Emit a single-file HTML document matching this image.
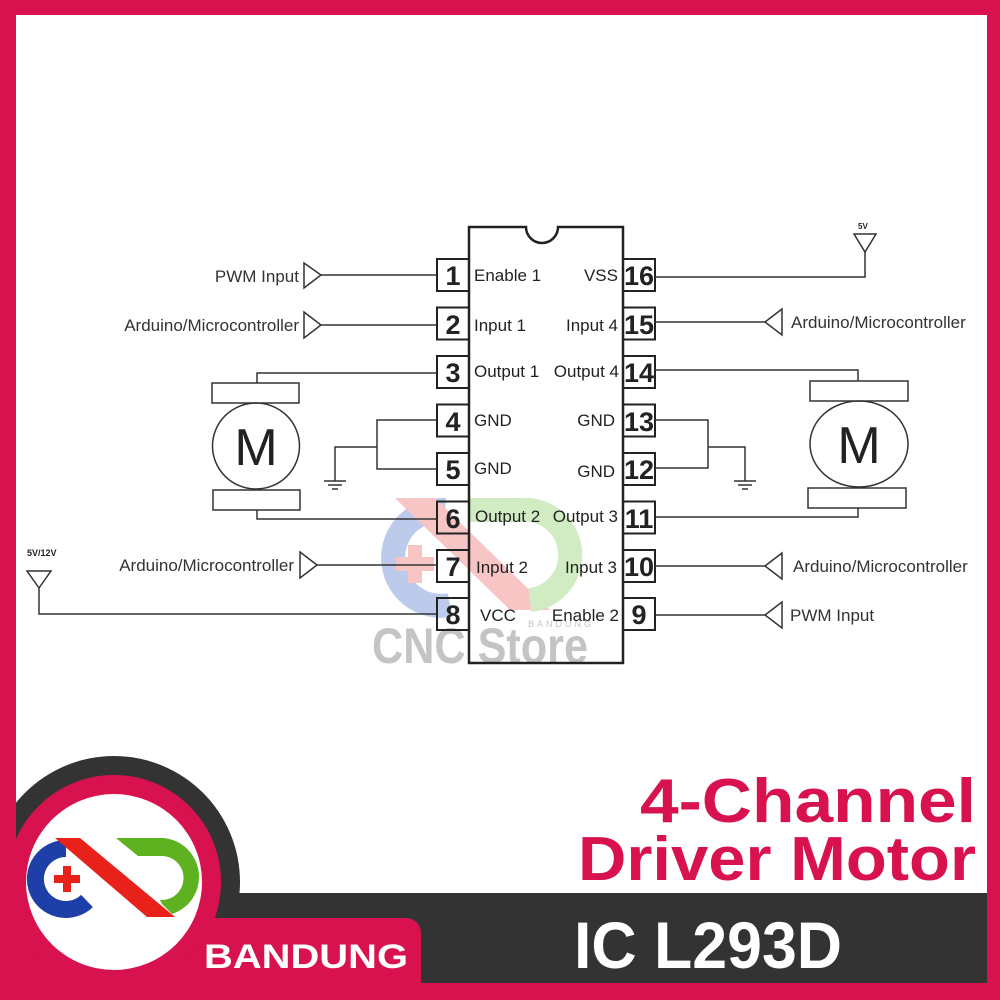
<!DOCTYPE html>
<html><head><meta charset="utf-8"><style>
html,body{margin:0;padding:0;background:#fff}
svg{display:block}
</style></head><body>
<svg width="1000" height="1000" viewBox="0 0 1000 1000" xmlns="http://www.w3.org/2000/svg" font-family="Liberation Sans, Arial, sans-serif">
<rect width="1000" height="1000" fill="#fff"/>

<!-- watermark -->
<g opacity="0.4">
  <path d="M445 510 A48 48 0 1 0 450 605" fill="none" stroke="#5a7fd0" stroke-width="24"/>
  <path d="M395 498 L435 498 L550 610 L510 610 Z" fill="#f07070"/>
  <path d="M470 510 L520 510 A45 45 0 0 1 530 600" fill="none" stroke="#8fd06a" stroke-width="24"/>
  <path d="M408 545 h14 v12 h12 v14 h-12 v12 h-14 v-12 h-12 v-14 h12 z" fill="#f07070"/>
</g>
<text x="372" y="663" font-size="50" font-weight="bold" fill="#c4c4c4" textLength="216" lengthAdjust="spacingAndGlyphs">CNC Store</text>
<text x="528" y="627" font-size="9" fill="#c4c4c4" letter-spacing="3">BANDUNG</text>

<g stroke="#222" stroke-width="2" fill="none">
  <path d="M469 227 H526 A16 16 0 0 0 558 227 H623 V663 H469 Z" stroke-width="2.5"/>
  <rect x="437" y="259" width="32" height="32"/>
  <rect x="437" y="307.5" width="32" height="32"/>
  <rect x="437" y="356" width="32" height="32"/>
  <rect x="437" y="404.5" width="32" height="32"/>
  <rect x="437" y="453" width="32" height="32"/>
  <rect x="437" y="501.5" width="32" height="32"/>
  <rect x="437" y="550" width="32" height="32"/>
  <rect x="437" y="598" width="32" height="32"/>
  <rect x="623" y="259" width="32" height="32"/>
  <rect x="623" y="307.5" width="32" height="32"/>
  <rect x="623" y="356" width="32" height="32"/>
  <rect x="623" y="404.5" width="32" height="32"/>
  <rect x="623" y="453" width="32" height="32"/>
  <rect x="623" y="501.5" width="32" height="32"/>
  <rect x="623" y="550" width="32" height="32"/>
  <rect x="623" y="598" width="32" height="32"/>
</g>

<g stroke="#333" stroke-width="1.5" fill="none">
  <path d="M321 275 H437"/><path d="M304 263 L321 275 L304 288 Z"/>
  <path d="M321 325 H437"/><path d="M304 312 L321 325 L304 338 Z"/>
  <path d="M257 383 V373 H437"/>
  <rect x="212" y="383" width="87" height="20"/>
  <ellipse cx="256" cy="446" rx="43.5" ry="43"/>
  <rect x="213" y="490" width="87" height="20"/>
  <path d="M257 510 V519 H437"/>
  <path d="M437 420 H377 V469 H437"/>
  <path d="M377 447 H335 V481"/>
  <path d="M324 481 H346 M328 485 H342 M332 489 H338"/>
  <path d="M317 565 H437"/><path d="M300 552 L317 565 L300 578 Z"/>
  <path d="M39 588 V614 H437"/><path d="M27 571 L51 571 L39 588 Z"/>
  <path d="M655 277 H865 V252"/><path d="M854 234 L876 234 L865 252 Z"/>
  <path d="M655 322 H765"/><path d="M782 309 L765 322 L782 335 Z"/>
  <path d="M655 370 H858 V381"/>
  <rect x="810" y="381" width="98" height="20"/>
  <ellipse cx="859" cy="444" rx="49" ry="43"/>
  <rect x="808" y="488" width="98" height="20"/>
  <path d="M858 508 V517 H655"/>
  <path d="M655 420 H708 V468 H655"/>
  <path d="M708 447 H745 V481"/>
  <path d="M734 481 H756 M738 485 H752 M742 489 H748"/>
  <path d="M655 566 H765"/><path d="M782 553 L765 566 L782 579 Z"/>
  <path d="M655 615 H765"/><path d="M782 602 L765 615 L782 628 Z"/>
</g>
<text x="256" y="465" font-size="52" text-anchor="middle" fill="#222">M</text>
<text x="859" y="463" font-size="52" text-anchor="middle" fill="#222">M</text>

<g font-size="27" font-weight="bold" fill="#222" text-anchor="middle">
  <text x="453" y="285">1</text><text x="453" y="334">2</text><text x="453" y="382">3</text><text x="453" y="431">4</text>
  <text x="453" y="479">5</text><text x="453" y="528">6</text><text x="453" y="576">7</text><text x="453" y="624">8</text>
  <text x="639" y="285">16</text><text x="639" y="334">15</text><text x="639" y="382">14</text><text x="639" y="431">13</text>
  <text x="639" y="479">12</text><text x="639" y="528">11</text><text x="639" y="576">10</text><text x="639" y="624">9</text>
</g>
<g font-size="17" fill="#222">
  <text x="474" y="281">Enable 1</text><text x="474" y="331">Input 1</text><text x="474" y="377">Output 1</text>
  <text x="474" y="426">GND</text><text x="474" y="474">GND</text><text x="475" y="522">Output 2</text>
  <text x="476" y="573">Input 2</text><text x="480" y="621">VCC</text>
</g>
<g font-size="17" fill="#222" text-anchor="end">
  <text x="618" y="281">VSS</text><text x="618" y="331">Input 4</text><text x="619" y="377">Output 4</text>
  <text x="615" y="426">GND</text><text x="615" y="477">GND</text><text x="618" y="522">Output 3</text>
  <text x="617" y="573">Input 3</text><text x="619" y="621">Enable 2</text>
</g>
<g font-size="17" fill="#333">
  <text x="299" y="282" text-anchor="end">PWM Input</text>
  <text x="299" y="331" text-anchor="end">Arduino/Microcontroller</text>
  <text x="294" y="571" text-anchor="end">Arduino/Microcontroller</text>
  <text x="791" y="328">Arduino/Microcontroller</text>
  <text x="793" y="572">Arduino/Microcontroller</text>
  <text x="790" y="621">PWM Input</text>
</g>
<text x="27" y="556" font-size="9" font-weight="bold" fill="#222">5V/12V</text>
<text x="858" y="229" font-size="8" font-weight="bold" fill="#222">5V</text>

<!-- frame -->
<rect x="0" y="0" width="1000" height="15" fill="#d8124e"/>
<rect x="0" y="0" width="16" height="1000" fill="#d8124e"/>
<rect x="987" y="0" width="13" height="1000" fill="#d8124e"/>

<!-- bottom banner -->
<circle cx="114" cy="882" r="126" fill="#333"/>
<rect x="114" y="893" width="873" height="90" fill="#333"/>
<rect x="0" y="983" width="1000" height="17" fill="#d8124e"/>
<path d="M0 918 H406 A15 15 0 0 1 421 933 V1000 H0 Z" fill="#d8124e"/>
<circle cx="114" cy="882" r="107" fill="#d8124e"/>
<rect x="0" y="882" width="30" height="118" fill="#d8124e"/>
<circle cx="114" cy="882" r="88" fill="#fff"/>
<rect x="0" y="0" width="16" height="1000" fill="#d8124e"/>

<!-- logo -->
<path d="M66 848.5 A30.5 30.5 0 1 0 87 901" fill="none" stroke="#1e3fa8" stroke-width="17"/>
<path d="M55 838 L80 838 L175 917 L147 917 Z" fill="#e8211b"/>
<path d="M116 838 L163 838 A39 39 0 0 1 172 914 L162 904 L160 900 A22 22 0 0 0 163 856 L138 856 Z" fill="#5fb21f"/>
<path d="M63 866 h8 v9 h9 v8 h-9 v9 h-8 v-9 h-9 v-8 h9 z" fill="#e8211b"/>

<text x="976" y="822" font-size="62" font-weight="bold" fill="#d8124e" text-anchor="end" textLength="336" lengthAdjust="spacingAndGlyphs">4-Channel</text>
<text x="976" y="880" font-size="62" font-weight="bold" fill="#d8124e" text-anchor="end" textLength="398" lengthAdjust="spacingAndGlyphs">Driver Motor</text>
<text x="574" y="968" font-size="66" font-weight="bold" fill="#fff" textLength="268" lengthAdjust="spacingAndGlyphs">IC L293D</text>
<text x="204" y="968" font-size="34" font-weight="bold" fill="#fff" textLength="204" lengthAdjust="spacingAndGlyphs">BANDUNG</text>
</svg>
</body></html>
